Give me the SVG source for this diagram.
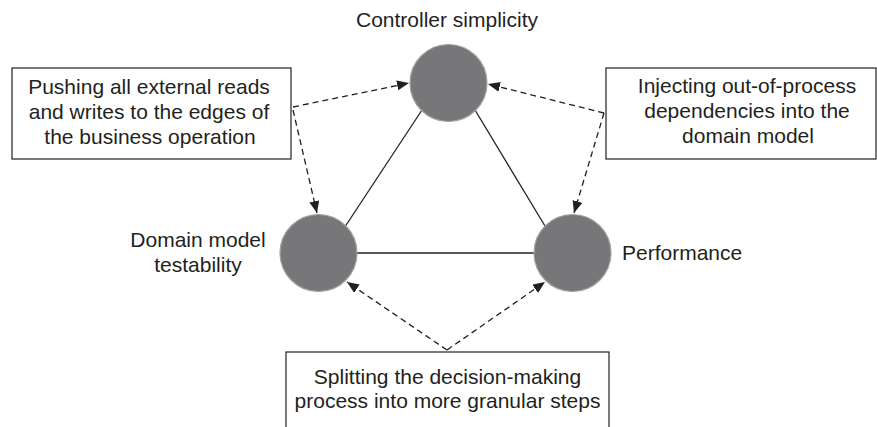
<svg xmlns="http://www.w3.org/2000/svg" width="877" height="427" viewBox="0 0 877 427">
  <style>
    .lbl { font-family: "Liberation Sans", Arial, sans-serif; font-size: 21px; fill: #231f20; }
    .box { fill: #ffffff; stroke: #231f20; stroke-width: 1.2; }
    .node { fill: #777679; stroke: #a3a3a3; stroke-width: 1.2; }
    .solid { stroke: #231f20; stroke-width: 1.3; fill: none; }
    .dash { stroke: #231f20; stroke-width: 1.3; fill: none; stroke-dasharray: 6 4; marker-end: url(#arrow); }
  </style>
  <defs>
    <marker id="arrow" markerUnits="userSpaceOnUse" markerWidth="13" markerHeight="11" refX="12" refY="5" orient="auto">
      <path d="M0,0 L12,5 L0,10 z" fill="#231f20"/>
    </marker>
  </defs>
  <rect width="877" height="427" fill="#ffffff"/>

  <g id="connectors">
    <line class="solid" x1="422" y1="110" x2="345.5" y2="226"/>
    <line class="solid" x1="475" y1="110" x2="545" y2="226"/>
    <line class="solid" x1="357" y1="253" x2="534" y2="253"/>
    <line class="dash" x1="293" y1="107" x2="409" y2="83"/>
    <line class="dash" x1="293" y1="110" x2="317" y2="213"/>
    <line class="dash" x1="604" y1="113" x2="488" y2="84"/>
    <line class="dash" x1="604" y1="113" x2="574" y2="213"/>
    <line class="dash" x1="447" y1="350" x2="347" y2="282"/>
    <line class="dash" x1="447" y1="350" x2="545" y2="282"/>
  </g>

  <g id="node-controller">
    <circle class="node" cx="448.5" cy="83" r="38.5"/>
    <text class="lbl" x="447" y="27" text-anchor="middle">Controller simplicity</text>
  </g>
  <g id="node-domain">
    <circle class="node" cx="318.5" cy="253" r="38.5"/>
    <text class="lbl" x="198" y="247" text-anchor="middle">Domain model</text>
    <text class="lbl" x="198" y="272" text-anchor="middle">testability</text>
  </g>
  <g id="node-performance">
    <circle class="node" cx="572.5" cy="253" r="38.5"/>
    <text class="lbl" x="622" y="260">Performance</text>
  </g>

  <g id="box-pushing">
    <rect class="box" x="12" y="68" width="279" height="91"/>
    <text class="lbl" x="149" y="94" text-anchor="middle">Pushing all external reads</text>
    <text class="lbl" x="149" y="119" text-anchor="middle">and writes to the edges of</text>
    <text class="lbl" x="150" y="144" text-anchor="middle">the business operation</text>
  </g>
  <g id="box-injecting">
    <rect class="box" x="606" y="68" width="270" height="91"/>
    <text class="lbl" x="747" y="93" text-anchor="middle">Injecting out-of-process</text>
    <text class="lbl" x="747" y="118" text-anchor="middle">dependencies into the</text>
    <text class="lbl" x="748" y="143" text-anchor="middle">domain model</text>
  </g>
  <g id="box-splitting">
    <rect class="box" x="286" y="352" width="323" height="90"/>
    <text class="lbl" x="447.5" y="384" text-anchor="middle">Splitting the decision-making</text>
    <text class="lbl" x="447.5" y="408" text-anchor="middle">process into more granular steps</text>
  </g>
</svg>
